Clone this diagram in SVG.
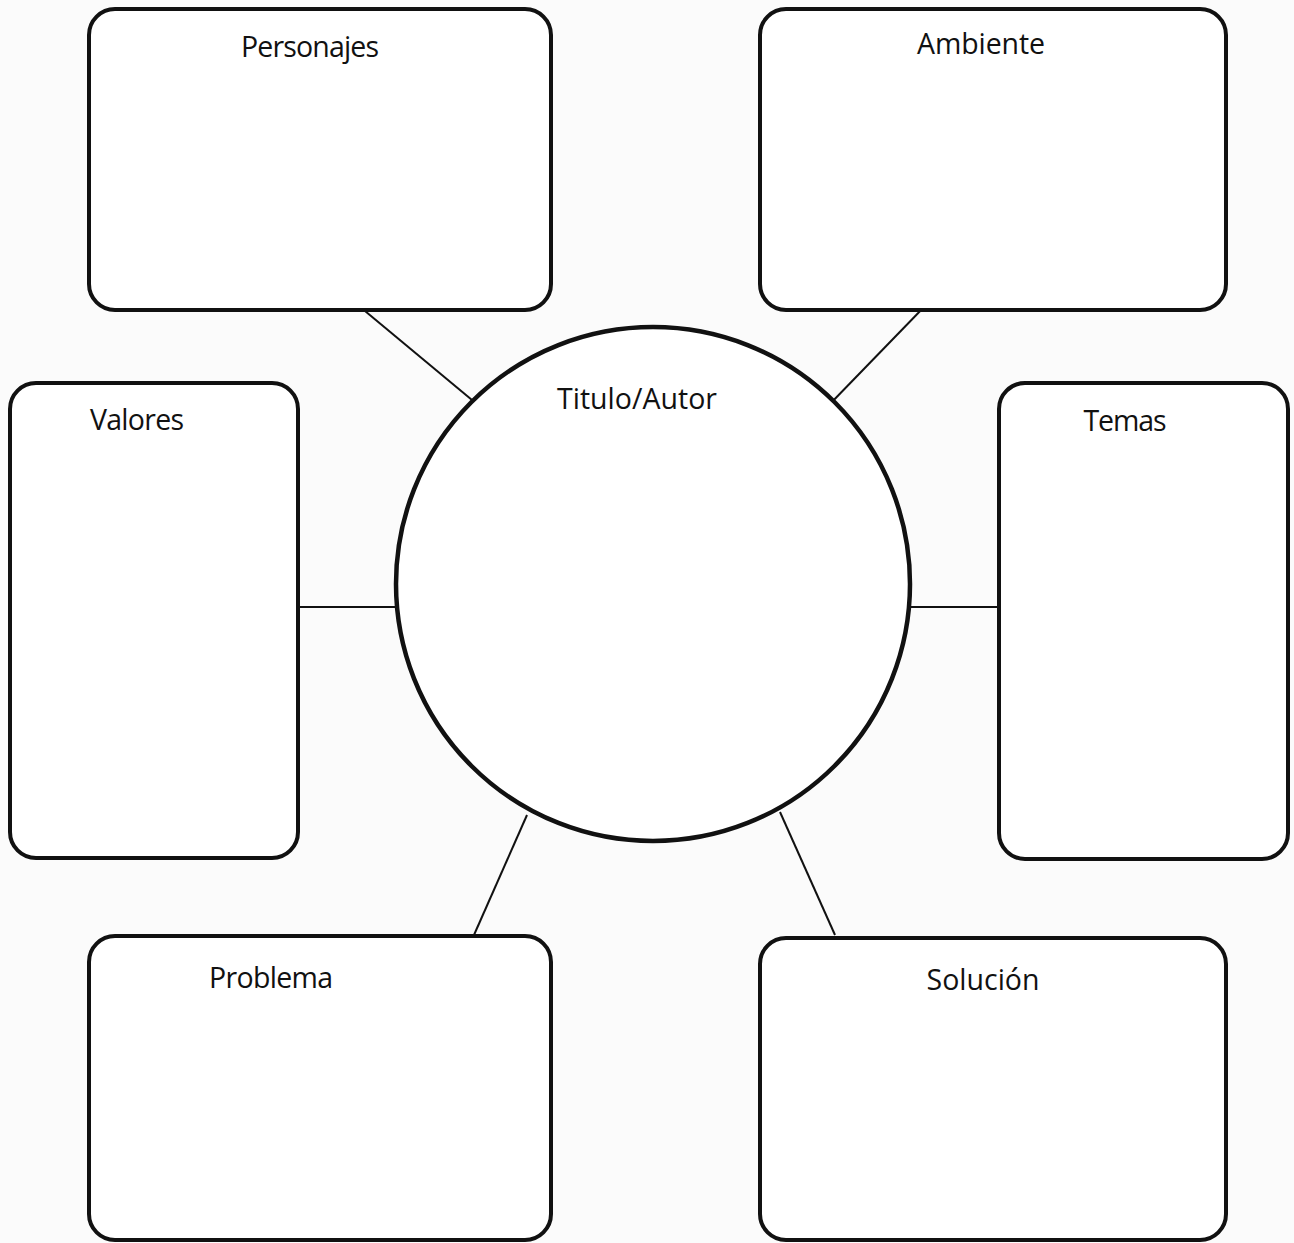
<svg xmlns="http://www.w3.org/2000/svg" width="1294" height="1243" viewBox="0 0 1294 1243">
<style>
.box{fill:#ffffff;stroke:#111;stroke-width:4}
.hub{fill:#ffffff;stroke:#111;stroke-width:4.5}
.c line{stroke:#111;stroke-width:2}
text{font-family:"Open Sans","Noto Sans","Liberation Sans",sans-serif;font-size:28.5px;fill:#111}
</style>
<rect width="1294" height="1243" fill="#fbfbfb"/>
<g class="c">
<line x1="365" y1="311" x2="472" y2="400"/>
<line x1="925" y1="306" x2="828" y2="406"/>
<line x1="298" y1="607" x2="396" y2="607"/>
<line x1="911" y1="607" x2="998" y2="607"/>
<line x1="527" y1="815" x2="474" y2="935"/>
<line x1="780" y1="812" x2="835" y2="935"/>
</g>
<g id="titulo"><circle class="hub" cx="653" cy="584" r="257"/><text x="637" y="409" text-anchor="middle" textLength="160">Titulo/Autor</text></g>
<g id="personajes"><rect class="box" x="89" y="9" width="462" height="301" rx="26"/><text x="310" y="57" text-anchor="middle" textLength="138">Personajes</text></g>
<g id="ambiente"><rect class="box" x="760" y="9" width="466" height="301" rx="26"/><text x="981" y="54" text-anchor="middle" textLength="128">Ambiente</text></g>
<g id="valores"><rect class="box" x="10" y="383" width="288" height="475" rx="26"/><text x="137" y="430" text-anchor="middle" textLength="94">Valores</text></g>
<g id="temas"><rect class="box" x="999" y="383" width="289" height="476" rx="26"/><text x="1125" y="431" text-anchor="middle" textLength="83">Temas</text></g>
<g id="problema"><rect class="box" x="89" y="936" width="462" height="304" rx="26"/><text x="271" y="988" text-anchor="middle" textLength="124">Problema</text></g>
<g id="solucion"><rect class="box" x="760" y="938" width="466" height="302" rx="26"/><text x="983" y="990" text-anchor="middle" textLength="113">Solución</text></g>
</svg>
